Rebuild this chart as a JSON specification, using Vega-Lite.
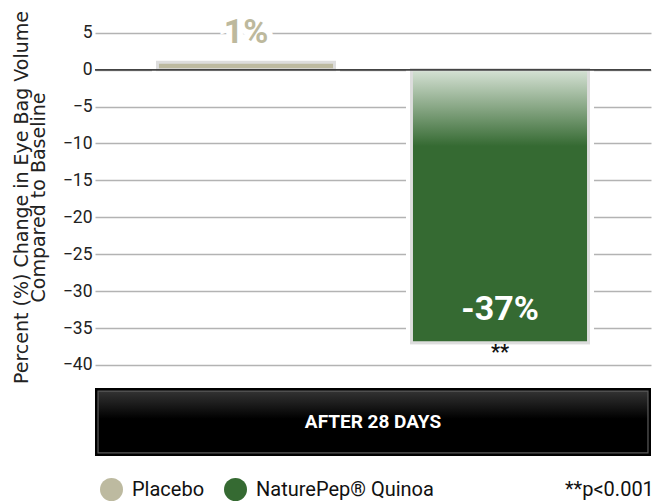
{
  "$schema": "https://vega.github.io/schema/vega-lite/v6.json",
  "padding": {"left": 12, "top": 10, "right": 10, "bottom": 0},
  "config": {
    "font": "Roboto",
    "view": {"stroke": null},
    "concat": {"spacing": 4}
  },
  "datasets": {
    "results": [
      {"treatment": "Placebo", "value": 1, "label": "1%", "sig": ""},
      {"treatment": "NaturePep® Quinoa", "value": -37, "label": "-37%", "sig": "**"}
    ],
    "period": [{"period": "AFTER 28 DAYS"}]
  },
  "vconcat": [
    {
      "width": 556,
      "height": 358,
      "data": {"name": "results"},
      "encoding": {
        "x": {
          "field": "treatment",
          "type": "nominal",
          "sort": ["Placebo", "NaturePep® Quinoa"],
          "scale": {"paddingInner": 0.303, "paddingOuter": 0.246},
          "axis": null
        },
        "y": {
          "field": "value",
          "type": "quantitative",
          "scale": {"domain": [-41.5, 7], "nice": false, "zero": false},
          "axis": {
            "values": [5, 0, -5, -10, -15, -20, -25, -30, -35, -40],
            "grid": true,
            "gridColor": "#b3b3b3",
            "gridWidth": 1.3,
            "domain": false,
            "ticks": false,
            "labelFont": "Roboto",
            "labelFontSize": 17.5,
            "labelColor": "#222222",
            "labelPadding": 3,
            "title": ["Percent (%) Change in Eye Bag Volume", "Compared to Baseline"],
            "titleFont": "DejaVu Sans",
            "titleFontSize": 19,
            "titleFontWeight": "normal",
            "titleColor": "#222222",
            "titlePadding": 14,
            "titleLineHeight": 17
          }
        }
      },
      "layer": [
        {
          "mark": {"type": "bar", "fill": "#ffffff", "stroke": "#ffffff", "strokeWidth": 11}
        },
        {
          "mark": {"type": "bar", "stroke": "#dddddd", "strokeWidth": 3},
          "encoding": {
            "color": {
              "field": "treatment",
              "type": "nominal",
              "sort": ["Placebo", "NaturePep® Quinoa"],
              "scale": {"domain": ["Placebo", "NaturePep® Quinoa"], "range": ["#bdbaa0", "#356a32"]},
              "legend": {
                "orient": "none",
                "legendX": 5,
                "legendY": 460,
                "direction": "horizontal",
                "symbolType": "circle",
                "symbolSize": 529,
                "symbolStrokeWidth": 0,
                "labelFont": "Roboto",
                "labelFontSize": 20,
                "labelColor": "#111111",
                "labelOffset": 9,
                "labelLimit": 400,
                "columnPadding": 19,
                "title": "**p<0.001",
                "titleOrient": "right",
                "titlePadding": 131,
                "titleFont": "Roboto",
                "titleFontSize": 20,
                "titleFontWeight": "normal",
                "titleColor": "#111111"
              }
            }
          }
        },
        {
          "transform": [{"filter": "datum.value < 0"}],
          "mark": {
            "type": "bar",
            "stroke": "#dddddd",
            "strokeWidth": 3,
            "fill": {
              "gradient": "linear",
              "x1": 0, "y1": 0, "x2": 0, "y2": 1,
              "stops": [
                {"offset": 0, "color": "#d6e2d5"},
                {"offset": 0.14, "color": "#87a684"},
                {"offset": 0.28, "color": "#356a32"},
                {"offset": 1, "color": "#356a32"}
              ]
            }
          }
        },
        {
          "mark": {"type": "rule", "color": "#444444", "strokeWidth": 1.5},
          "encoding": {"y": {"datum": 0}, "x": null}
        },
        {
          "transform": [{"filter": "datum.value >= 0"}],
          "mark": {"type": "text", "font": "Roboto", "fontSize": 34, "fontWeight": "bold", "baseline": "middle", "dy": -29, "color": "#ffffff", "stroke": "#ffffff", "strokeWidth": 12},
          "encoding": {"text": {"field": "label"}}
        },
        {
          "transform": [{"filter": "datum.value >= 0"}],
          "mark": {"type": "text", "font": "Roboto", "fontSize": 34, "fontWeight": "bold", "baseline": "middle", "dy": -29, "color": "#bdb99d"},
          "encoding": {"text": {"field": "label"}}
        },
        {
          "transform": [{"filter": "datum.value < 0"}],
          "mark": {"type": "text", "font": "Roboto", "fontSize": 34, "fontWeight": "bold", "baseline": "middle", "dy": -33, "color": "#ffffff"},
          "encoding": {"text": {"field": "label"}}
        },
        {
          "transform": [{"filter": "datum.value < 0"}],
          "mark": {"type": "text", "font": "Roboto", "fontSize": 20, "fontWeight": "bold", "baseline": "middle", "dy": 10, "color": "#111111"},
          "encoding": {"text": {"field": "sig"}}
        }
      ]
    },
    {
      "width": 556,
      "height": 68,
      "data": {"name": "period"},
      "view": {"fill": "#000000", "stroke": null},
      "encoding": {
        "x": {"field": "period", "type": "nominal", "scale": {"paddingInner": 0, "paddingOuter": 0.0055}, "axis": null},
        "y": {"field": "period", "type": "nominal", "scale": {"paddingInner": 0, "paddingOuter": 0.05}, "axis": null}
      },
      "layer": [
        {
          "mark": {
            "type": "rect",
            "stroke": "#5a5a5a",
            "strokeWidth": 1.2,
            "fill": {
              "gradient": "linear",
              "x1": 0, "y1": 0, "x2": 0, "y2": 1,
              "stops": [
                {"offset": 0, "color": "#333333"},
                {"offset": 0.45, "color": "#000000"},
                {"offset": 1, "color": "#000000"}
              ]
            }
          }
        },
        {
          "mark": {"type": "text", "font": "Roboto", "fontSize": 19, "fontWeight": "bold", "color": "#ffffff", "baseline": "middle"},
          "encoding": {"text": {"field": "period"}}
        }
      ]
    }
  ]
}
